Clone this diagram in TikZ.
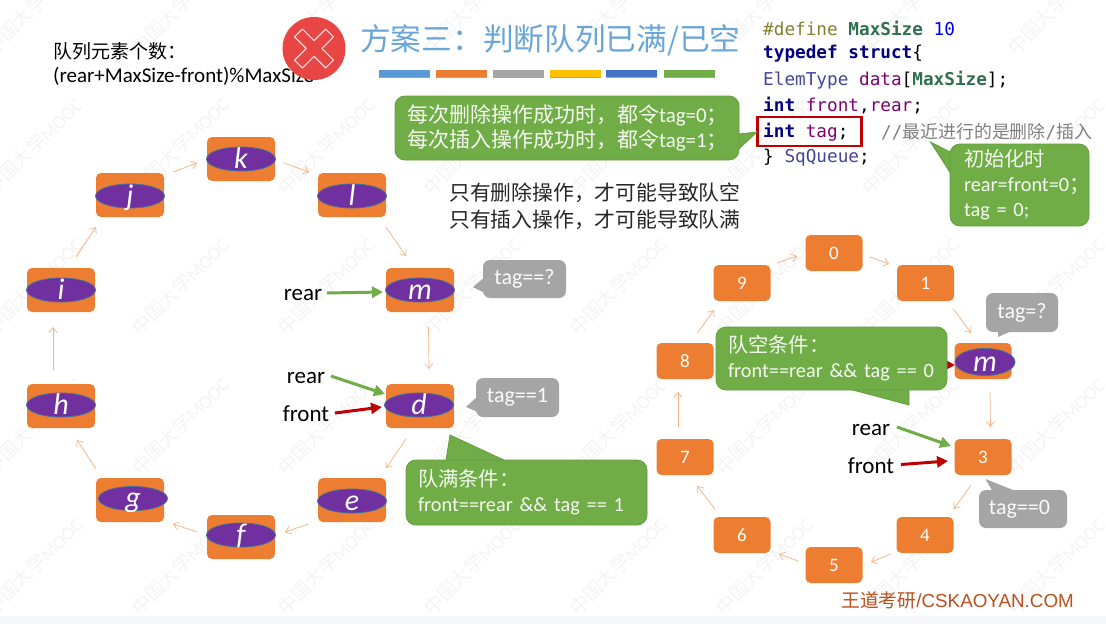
\documentclass[tikz,border=0pt]{standalone}
\usepackage{fontspec}
\setmainfont{Carlito}
\setmonofont{DejaVu Sans Mono}
\newfontfamily\cjkf{Noto Sans CJK SC}
\usetikzlibrary{arrows.meta,shapes.geometric}
\definecolor{boxor}{HTML}{ED7D31}
\definecolor{ellpur}{HTML}{7030A0}
\definecolor{ellbd}{HTML}{41719C}
\definecolor{gr}{HTML}{70AD47}
\definecolor{grbd}{HTML}{649C40}
\definecolor{gy}{HTML}{A5A5A5}
\definecolor{rd}{HTML}{C00000}
\definecolor{ringc}{HTML}{F4B183}
\definecolor{wmc}{HTML}{F4F4F4}
\definecolor{kwc}{HTML}{000080}
\definecolor{ppc}{HTML}{800070}
\definecolor{tyc}{HTML}{45459A}
\definecolor{dgc}{HTML}{2F6F4F}
\definecolor{stopc}{HTML}{E84545}
\definecolor{titlec}{HTML}{6AA5D8}
\definecolor{HBa}{HTML}{5B9BD5}
\definecolor{HBb}{HTML}{FFC000}
\definecolor{HBc}{HTML}{4472C4}
\definecolor{footc}{HTML}{B8501F}
\definecolor{bandc}{HTML}{F5F7FB}
\newcommand\zh[1]{{\cjkf #1}}
\newcommand\lt[1]{\makebox[0pt]{\smash{\raisebox{-9pt}{#1}}}}
\newcommand\lowr[1]{\raisebox{-3pt}{#1}}
\newcommand\conn[6]{\draw[ringarrow] ([shift={(#2,#3)}]#1.center) -- ([shift={(#5,#6)}]#4.center);}
\newcommand\kw[1]{\textcolor{kwc}{\bfseries #1}}
\newcommand\ms{\textcolor{dgc}{\bfseries MaxSize}}
\tikzset{
  ringarrow/.style={draw=ringc,line width=0.7pt,-{Straight Barb[length=5pt,width=8pt]}},
  greenarrow/.style={draw=gr,line width=3pt,-{Triangle[length=11pt,width=11pt]}},
  redarrow/.style={draw=rd,line width=3pt,-{Triangle[length=11pt,width=11pt]}},
  bigbox/.style={rectangle,rounded corners=5pt,fill=boxor,minimum width=68pt,minimum height=44pt,inner sep=0pt},
  smallbox/.style={rectangle,rounded corners=5pt,fill=boxor,minimum width=57pt,minimum height=36pt,inner sep=0pt,text=white,font=\fontsize{19}{20}\selectfont},
  elem/.style={ellipse,fill=ellpur,draw=ellbd,line width=0.8pt,minimum width=69pt,minimum height=24pt,inner sep=0pt,text=white,font=\fontsize{30}{30}\selectfont\itshape},
  greenbox/.style={rectangle,rounded corners=10pt,fill=gr,draw=grbd,line width=0.8pt,text=white!93!gr,align=left,inner xsep=12pt,inner ysep=0pt,font=\fontsize{20.3}{25}\selectfont},
  greytail/.style={fill=gy},
  greentail/.style={fill=gr,draw=grbd,line width=0.8pt},
  greybox/.style={rectangle,rounded corners=7pt,fill=gy,text=white!95!gy,inner sep=0pt,font=\fontsize{22}{24}\selectfont},
  plain/.style={inner sep=0pt,anchor=west,align=left},
  ptr/.style={inner sep=0pt,text=black,font=\fontsize{23}{25}\selectfont},
  codeline/.style={inner sep=0pt,anchor=west,font=\fontsize{17.7}{20}\selectfont\ttfamily},
  bar/.style={minimum width=51pt,minimum height=6.5pt,inner sep=0pt},
  watermark/.style={inner sep=0pt,text=wmc,rotate=45,font=\fontsize{19}{20}\selectfont},
}
\begin{document}
\begin{tikzpicture}[x=1pt,y=-1pt]
\useasboundingbox (0,0) rectangle (1106,624);
\fill[white] (0,0) rectangle (1106,624);
\fill[bandc] (0,616) rectangle (1106,624);
% watermark
\foreach \xx in {-13,133,279,425,571,717,863,1009}
  \foreach \yy in {53,193,333,473,613}
    \node[watermark,name=wm\xx-\yy] at (\xx+47,\yy-47) {\zh{中国大学}MOOC};

% title area
\node[plain,text=black,font=\fontsize{21}{24}\selectfont] (count) at (53,64) {{\fontsize{19}{24}\selectfont\zh{队列元素个数：}}\\(rear+MaxSize-front)\%MaxSize};
\node[circle,fill=stopc,minimum size=63pt,inner sep=0pt] (stop) at (314,48.5) {};
\draw[white!80!stopc,line width=1.1pt,shift={(314,48.5)},rotate=45,line join=round]
  (-5.5,-22) -- (5.5,-22) -- (5.5,-5.5) -- (22,-5.5) -- (22,5.5) -- (5.5,5.5) -- (5.5,22) -- (-5.5,22) -- (-5.5,5.5) -- (-22,5.5) -- (-22,-5.5) -- (-5.5,-5.5) -- cycle;
\node[plain,text=titlec,font=\fontsize{30.7}{32}\selectfont] (title) at (360,40) {\zh{方案三：判断队列已满/已空}};
\node[bar,fill=black!35] (s1) at (404.5,75) {};
\node[bar,fill=black!35] (s2) at (461.5,75) {};
\node[bar,fill=black!35] (s3) at (518.5,75) {};
\node[bar,fill=black!35] (s4) at (575.5,75) {};
\node[bar,fill=black!35] (s5) at (631.5,75) {};
\node[bar,fill=black!35] (s6) at (689.5,75) {};
\node[bar,fill=HBa] (b1) at (404.5,73.5) {};
\node[bar,fill=boxor] (b2) at (461.5,73.5) {};
\node[bar,fill=gy] (b3) at (518.5,73.5) {};
\node[bar,fill=HBb] (b4) at (575.5,73.5) {};
\node[bar,fill=HBc] (b5) at (631.5,73.5) {};
\node[bar,fill=gr] (b6) at (689.5,73.5) {};

% code
\node[codeline] (c1) at (763,28) {\textcolor[HTML]{808030}{\#define} \ms{} \textcolor[HTML]{0000E6}{10}};
\node[codeline] (c2) at (763,54) {\kw{typedef struct}\{};
\node[codeline] (c3) at (763,80) {\textcolor{tyc}{ElemType} \textcolor{ppc}{data}[\ms];};
\node[codeline] (c4) at (763,106) {\kw{int} \textcolor{ppc}{front},\textcolor{ppc}{rear};};
\node[codeline] (c5) at (763,132) {\kw{int} \textcolor{ppc}{tag};};
\node[codeline,text=black!50] (c5b) at (881,132) {//{\fontsize{17.9}{18}\selectfont\zh{最近进行的是删除}}/{\fontsize{17.9}{18}\selectfont\zh{插入}}};
\node[codeline] (c6) at (763,158) {\} \textcolor{tyc}{SqQueue};};
\node[rectangle,draw=rd,line width=2.5pt,minimum width=104pt,minimum height=29pt,inner sep=0pt] (redbox) at (809.5,131.5) {};

% green top
\fill[greentail] (730,135) -- (757,132) -- (728,159) -- cycle;
\node[greenbox,font=\fontsize{21}{25}\selectfont,minimum width=344pt,minimum height=64pt,text width=320pt] (gtop) at (567,128) {\zh{每次删除操作成功时，都令}tag=0\zh{；}\\\zh{每次插入操作成功时，都令}tag=1\zh{；}};
% init
\fill[greentail] (930.5,142) -- (960,157) -- (955,180) -- cycle;
\node[greenbox,inner xsep=14pt,minimum width=139pt,minimum height=82pt,text width=111pt] (ginit) at (1019.5,185) {\zh{初始化时}\\\mbox{rear=front=0\zh{；}}\\tag = 0;};

% sentence text
\node[plain,text=black!85,font=\fontsize{20.8}{27}\selectfont] (only) at (449,206.5) {\zh{只有删除操作，才可能导致队空}\\\zh{只有插入操作，才可能导致队满}};

% left ring boxes
\foreach \nm/\xx/\yy in {qi/61/290,qj/130/195,qk/241/159,ql/352/195,qm/420/290,qd/420/406,qe/352/500,qf/241/537,qg/130/500,qh/61/406}
  \node[bigbox,name=\nm] at (\xx,\yy) {};
\node[elem] (ei) at (61,290) {\lt{i}};
\node[elem] (ej) at (130,196) {\lt{j}};
\node[elem] (ek) at (241,159) {\lt{k}};
\node[elem] (el) at (352,196) {\lt{l}};
\node[elem] (em) at (420,290) {\lt{m}};
\node[elem] (ed) at (419,405) {\lt{d}};
\node[elem] (ee) at (352,501) {\lt{e}};
\node[elem] (ef) at (241,535) {\lt{f}};
\node[elem] (eg) at (133,498.5) {\lt{g}};
\node[elem] (eh) at (61,405) {\lt{h}};

\conn{qi}{15}{-33}{qj}{-34}{32}
\conn{qj}{43}{-23}{qk}{-44}{4}
\conn{qk}{43}{4}{ql}{-43}{-23}
\conn{ql}{34}{32}{qm}{-14}{-34}
\conn{qm}{8.5}{37}{qd}{9}{-37}
\conn{qd}{-14}{33}{qe}{34}{-32}
\conn{qe}{-43.5}{24}{qf}{44}{-5}
\conn{qf}{-44}{-5}{qg}{43}{24}
\conn{qg}{-34}{-31}{qh}{16}{34}
\conn{qh}{-8}{-36}{qi}{-8}{37}

% left pointers
\node[ptr] (lr1) at (303,295) {rear};
\node[ptr] (lr2) at (306,378) {rear};
\node[ptr] (lf) at (306,414) {front};
\draw[greenarrow] ([shift={(24,-2)}]lr1.center) -- ([shift={(-37,2)}]qm.center);
\draw[greenarrow] ([shift={(25,-2)}]lr2.center) -- ([shift={(-35,-12)}]qd.center);
\draw[redarrow] ([shift={(29,-1)}]lf.center) -- ([shift={(-38,1)}]qd.center);

% left grey callouts
\fill[greytail] (473,287) -- (485,277) -- (485,293) -- cycle;
\node[greybox,minimum width=83pt,minimum height=38pt] (t1) at (524.5,279) {\lowr{tag==?}};
\fill[greytail] (466,407) -- (478,396) -- (478,412) -- cycle;
\node[greybox,minimum width=83pt,minimum height=39pt] (t2) at (517.5,397.5) {\lowr{tag==1}};

% right ring boxes
\foreach \nm/\tx/\xx/\yy in {n0/0/834/253,n1/1/925.5/283,n3/3/983/457,n4/4/925/535,n5/5/834/565,n6/6/742/535,n7/7/685/457,n8/8/685/361,n9/9/742/283}
  \node[smallbox,name=\nm] at (\xx,\yy) {\tx};
\node[smallbox] (n2) at (983,361) {};
\conn{n9}{35}{-20}{n0}{-37}{3}
\conn{n0}{36}{4}{n1}{-36.5}{-19}
\conn{n1}{28}{26}{n2}{-12}{-28}
\conn{n2}{7}{31}{n3}{7.5}{-30}
\conn{n3}{-12}{28}{n4}{29}{-26}
\conn{n4}{-34}{19}{n5}{37}{-3}
\conn{n5}{-36}{-4}{n6}{37}{19}
\conn{n6}{-27}{-26}{n7}{12}{29}
\conn{n7}{-7}{-30}{n8}{-7}{31}
\conn{n8}{12.5}{-28}{n9}{-28}{27}

% right pointers
\node[ptr] (rr) at (871,429.5) {rear};
\node[ptr] (rf) at (871,466) {front};
\draw[greenarrow] ([shift={(26,-2.5)}]rr.center) -- ([shift={(-32,-11)}]n3.center);
\draw[redarrow] ([shift={(30,-1.5)}]rf.center) -- ([shift={(-35,4)}]n3.center);
\draw[redarrow] ([shift={(-60,4)}]n2.center) -- ([shift={(-28,4)}]n2.center);

\node[elem,minimum width=60pt,minimum height=27pt] (e2) at (985,362) {\lt{m}};

% green conditions
\fill[greentail] (450,435) -- (505,460.5) -- (446,460.5) -- cycle;
\node[greenbox,minimum width=241pt,minimum height=65pt,text width=217pt] (gfull) at (526.5,492.5) {\zh{队满条件：}\\front==rear \&\& tag == 1};
\fill[greentail] (851,389.5) -- (909,389.5) -- (909,405) -- cycle;
\node[greenbox,minimum width=231pt,minimum height=63pt,text width=207pt] (gempty) at (831.5,358.5) {\zh{队空条件：}\\front==rear \&\& tag == 0};

% right grey callouts
\fill[greytail] (998,337) -- (998,328) -- (1018,328) -- cycle;
\node[greybox,minimum width=72pt,minimum height=39pt] (t3) at (1022,312.5) {\lowr{tag=?}};
\fill[greytail] (985.5,479) -- (1018,492) -- (993,492) -- cycle;
\node[greybox,minimum width=88pt,minimum height=38pt] (t4) at (1023,509) {\lowr{\hspace{-7pt}tag==0}};

% footer
\node[plain,text=footc,font=\fontsize{18.8}{20}\selectfont\fontspec{Liberation Sans}] (foot) at (841,600) {\zh{王道考研}/CSKAOYAN.COM};
\end{tikzpicture}
\end{document}
